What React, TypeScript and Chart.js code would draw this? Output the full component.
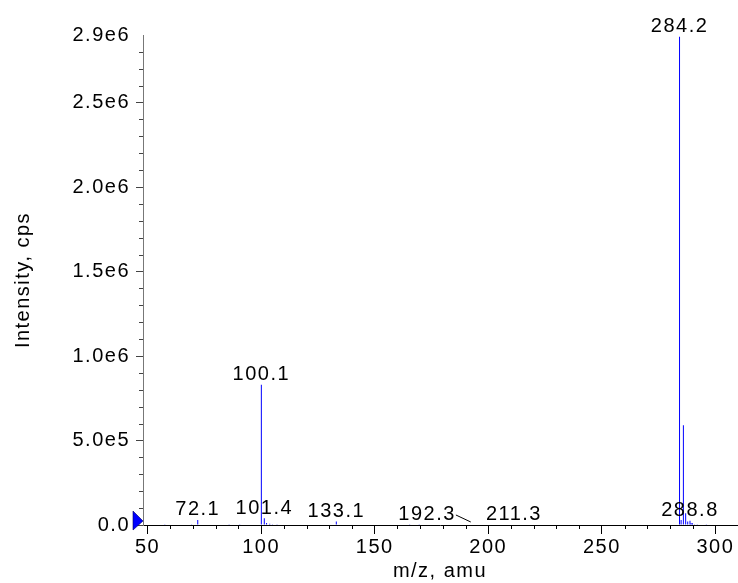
import React, { useEffect, useRef } from "react";
import { Chart, registerables } from "chart.js";

Chart.register(...registerables);

// ---- data ----
const mzValues = [
  57.6, 69.4, 72.1, 85.9, 90.6, 96.5, 100.1, 101.4, 102.4, 103.8, 105.0, 107.0,
  133.1, 134.6, 165.4, 169.6, 192.3, 211.3, 284.2, 284.9, 285.9, 286.9, 287.8,
  288.8, 289.3, 289.9, 290.8, 292.0, 293.5, 296.0,
];
const intensities = [
  5e3, 5e3, 3e4, 5e3, 4e3, 3e3, 8.3e5, 4e4, 1.2e4, 7e3, 5e3, 4e3,
  2e4, 3e3, 2e3, 2e3, 3e3, 3e3, 2.89e6, 3e4, 5.9e5, 7e4, 2e4,
  2.5e4, 1.2e4, 1e4, 5e3, 4e3, 3e3, 2e3,
];
const labelledMz = [72.1, 100.1, 101.4, 133.1, 192.3, 211.3, 284.2, 288.8];

const xTickValues = [50, 100, 150, 200, 250, 300];
const xTickLabels = ["50", "100", "150", "200", "250", "300"];
const yTickValues = [0, 5e5, 1e6, 1.5e6, 2e6, 2.5e6, 2.9e6];
const yTickLabels = ["0.0", "5.0e5", "1.0e6", "1.5e6", "2.0e6", "2.5e6", "2.9e6"];
const xMinorStep = 10;
const yMinorStep = 1e5;

const FONT = '"Liberation Sans", Arial, Helvetica, sans-serif';
const FONT_SIZE = 20;
const SPACING = "1.5px";
const BLUE = "#0000ff";

const decorPlugin = {
  id: "spectrumDecor",
  beforeInit(chart: any) {
    chart.ctx.letterSpacing = SPACING;
  },
  beforeLayout(chart: any) {
    chart.ctx.letterSpacing = SPACING;
  },
  beforeDraw(chart: any) {
    chart.ctx.letterSpacing = SPACING;
  },
  afterDraw(chart: any) {
    const ctx: CanvasRenderingContext2D = chart.ctx;
    const xs = chart.scales.x;
    const ys = chart.scales.y;
    ctx.save();
    ctx.letterSpacing = SPACING;

    // minor ticks on x
    ctx.strokeStyle = "#000";
    ctx.lineWidth = 1;
    ctx.beginPath();
    const xStart = Math.ceil(xs.min / xMinorStep);
    for (let i = xStart; i * xMinorStep <= xs.max; i++) {
      const v = i * xMinorStep;
      if (xTickValues.includes(v)) continue;
      const px = Math.round(xs.getPixelForValue(v)) + 0.5;
      ctx.moveTo(px, xs.top);
      ctx.lineTo(px, xs.top + 4);
    }
    ctx.stroke();

    // minor ticks on y
    ctx.strokeStyle = "#444";
    ctx.beginPath();
    for (let i = 1; i * yMinorStep < ys.max; i++) {
      const v = i * yMinorStep;
      if (yTickValues.includes(v)) continue;
      const py = Math.round(ys.getPixelForValue(v)) + 0.5;
      ctx.moveTo(ys.right - 4, py);
      ctx.lineTo(ys.right, py);
    }
    ctx.stroke();

    // baseline marker triangle
    const left = xs.left;
    const y0 = ys.getPixelForValue(0);
    ctx.fillStyle = BLUE;
    ctx.strokeStyle = "#000060";
    ctx.lineWidth = 0.6;
    ctx.beginPath();
    ctx.moveTo(left - 10, y0 - 14);
    ctx.lineTo(left - 10, y0 + 5);
    ctx.lineTo(left, y0 - 4);
    ctx.closePath();
    ctx.fill();
    ctx.stroke();

    // peak labels
    ctx.font = `${FONT_SIZE}px ${FONT}`;
    ctx.fillStyle = "#000";
    ctx.textBaseline = "alphabetic";
    ctx.textAlign = "center";
    const items = labelledMz
      .map((mz) => {
        const idx = mzValues.indexOf(mz);
        const text = mz.toFixed(1);
        const px = xs.getPixelForValue(mz);
        const py = ys.getPixelForValue(intensities[idx]);
        const w = ctx.measureText(text).width;
        return { text, px, py, base: py - 4.5, w, cx: px, leader: false };
      })
      .sort((a, b) => a.px - b.px);
    for (let i = 0; i < items.length; i++) {
      const a = items[i];
      for (let j = i + 1; j < items.length; j++) {
        const b = items[j];
        if (Math.abs(a.base - b.base) > 16) continue;
        const aRight = a.cx + a.w / 2;
        const bLeft = b.cx - b.w / 2;
        if (aRight > bLeft - 2) {
          a.cx = bLeft - 30 - a.w / 2;
          a.leader = true;
        }
      }
    }
    ctx.strokeStyle = "#000";
    ctx.lineWidth = 1;
    for (const it of items) {
      ctx.fillText(it.text, it.cx, it.base);
      if (it.leader) {
        ctx.beginPath();
        ctx.moveTo(it.cx + it.w / 2, it.base - 5);
        ctx.lineTo(it.px, it.py - 2.5);
        ctx.stroke();
      }
    }
    ctx.restore();
  },
};

export default function App() {
  const canvasRef = useRef<HTMLCanvasElement | null>(null);

  useEffect(() => {
    if (!canvasRef.current) return;
    const chart = new Chart(canvasRef.current, {
      type: "bar",
      data: {
        datasets: [
          {
            data: mzValues.map((x, i) => ({ x, y: intensities[i] })),
            backgroundColor: BLUE,
            borderWidth: 0,
            barThickness: 1,
            inflateAmount: 0,
            grouped: false,
          } as any,
        ],
      },
      options: {
        responsive: false,
        animation: false,
        events: [],
        layout: { padding: { top: 35, right: 1, left: 0, bottom: 0 } },
        plugins: {
          legend: { display: false },
          tooltip: { enabled: false },
          title: { display: false },
        },
        scales: {
          x: {
            type: "linear",
            min: 48,
            max: 309.5,
            offset: false,
            afterBuildTicks: (s: any) => {
              s.ticks = xTickValues.map((v) => ({ value: v }));
            },
            afterFit: (s: any) => {
              s.height = 58;
            },
            ticks: {
              autoSkip: false,
              maxRotation: 0,
              padding: 1,
              color: "#000",
              font: { family: FONT, size: FONT_SIZE },
              callback: (_v: any, i: number) => xTickLabels[i],
            },
            grid: {
              display: true,
              offset: false,
              drawOnChartArea: false,
              drawTicks: true,
              tickLength: 9,
              tickColor: "#000",
              tickWidth: 1,
            },
            border: { display: true, color: "#000", width: 1 },
            title: {
              display: true,
              text: "m/z, amu",
              color: "#000",
              font: { family: FONT, size: FONT_SIZE },
              padding: { top: 0, bottom: 0 },
            },
          },
          y: {
            type: "linear",
            min: 0,
            max: 2.9e6,
            afterBuildTicks: (s: any) => {
              s.ticks = yTickValues.map((v) => ({ value: v }));
            },
            afterFit: (s: any) => {
              s.width = 143;
            },
            ticks: {
              autoSkip: false,
              padding: 6,
              color: "#000",
              font: { family: FONT, size: FONT_SIZE },
              callback: (_v: any, i: number) => yTickLabels[i],
            },
            grid: {
              display: true,
              drawOnChartArea: false,
              drawTicks: true,
              tickLength: 7,
              tickWidth: 1,
              tickColor: (c: any) =>
                c.index === yTickValues.length - 1 ? "rgba(0,0,0,0)" : "#444",
            },
            border: { display: true, color: "#777", width: 1 },
            title: {
              display: true,
              text: "Intensity, cps",
              color: "#000",
              font: { family: FONT, size: FONT_SIZE },
              padding: { top: 11, bottom: 0 },
            },
          },
        },
      } as any,
      plugins: [decorPlugin as any],
    });
    return () => chart.destroy();
  }, []);

  return (
    <div style={{ position: "fixed", left: 0, top: 0, width: 738, height: 583, background: "#fff" }}>
      <canvas ref={canvasRef} width={738} height={583} style={{ display: "block" }} />
    </div>
  );
}
